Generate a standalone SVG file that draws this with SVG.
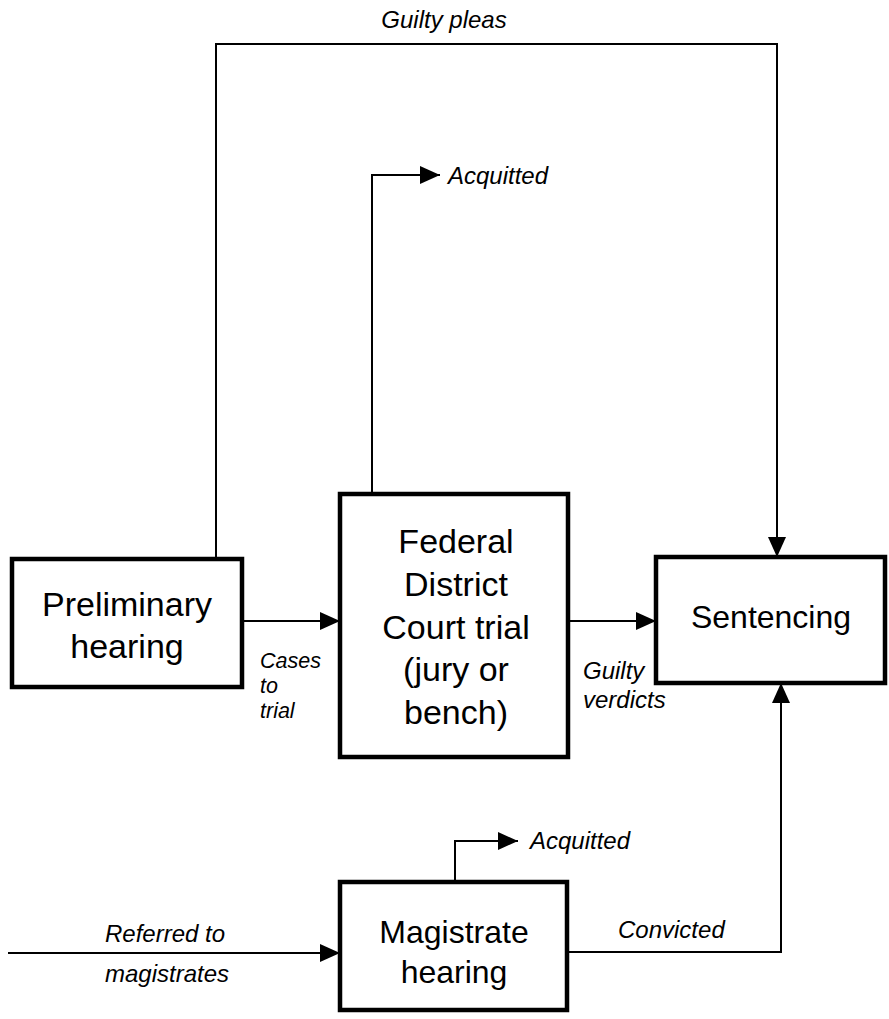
<svg xmlns="http://www.w3.org/2000/svg" width="889" height="1019" viewBox="0 0 889 1019">
<style>
.box{fill:#fff;stroke:#000;stroke-width:4.5}
.bt{font-family:"Liberation Sans",Arial,sans-serif;font-size:32px;fill:#000;text-anchor:middle}
.big{font-size:34px}
.lb{font-family:"Liberation Sans",Arial,sans-serif;font-size:24px;font-style:italic;fill:#000}
.sm{font-size:21.5px}
.ln{fill:none;stroke:#000;stroke-width:2}
</style>
<defs>
<marker id="ah" viewBox="0 0 20 18" refX="20" refY="9" markerWidth="20" markerHeight="18" markerUnits="userSpaceOnUse" orient="auto">
<path d="M0,0 L20,9 L0,18 Z" fill="#000"/>
</marker>
</defs>
<rect width="889" height="1019" fill="#fff"/>
<g id="connectors">
<polyline class="ln" points="216,559 216,44 777,44 777,557" marker-end="url(#ah)"/>
<polyline class="ln" points="372,494 372,175 440,175" marker-end="url(#ah)"/>
<line class="ln" x1="242" y1="621" x2="340" y2="621" marker-end="url(#ah)"/>
<line class="ln" x1="568" y1="621" x2="656" y2="621" marker-end="url(#ah)"/>
<polyline class="ln" points="455,882 455,841 518,841" marker-end="url(#ah)"/>
<line class="ln" x1="8" y1="953" x2="340" y2="953" marker-end="url(#ah)"/>
<polyline class="ln" points="567,952 781,952 781,683" marker-end="url(#ah)"/>
<text class="lb" x="444" y="28" text-anchor="middle">Guilty pleas</text>
<text class="lb" x="448" y="184">Acquitted</text>
<text class="lb sm" x="260" y="668">Cases</text>
<text class="lb sm" x="260" y="693">to</text>
<text class="lb sm" x="260" y="718">trial</text>
<text class="lb" x="583" y="679">Guilty</text>
<text class="lb" x="583" y="708">verdicts</text>
<text class="lb" x="530" y="849">Acquitted</text>
<text class="lb" x="618" y="938">Convicted</text>
<text class="lb" x="105" y="942">Referred to</text>
<text class="lb" x="105" y="982">magistrates</text>
</g>
<g id="preliminary">
<rect class="box" x="12" y="559" width="230" height="128"/>
<text class="bt big" x="127" y="616">Preliminary</text>
<text class="bt big" x="127" y="658">hearing</text>
</g>
<g id="federal">
<rect class="box" x="340" y="494" width="228" height="263"/>
<text class="bt big" x="456" y="553">Federal</text>
<text class="bt big" x="456" y="596">District</text>
<text class="bt big" x="456" y="639">Court trial</text>
<text class="bt big" x="456" y="681">(jury or</text>
<text class="bt big" x="456" y="724">bench)</text>
</g>
<g id="sentencing">
<rect class="box" x="656" y="557" width="229" height="126"/>
<text class="bt" x="771" y="628">Sentencing</text>
</g>
<g id="magistrate">
<rect class="box" x="340" y="882" width="227" height="128"/>
<text class="bt" x="454" y="943">Magistrate</text>
<text class="bt" x="454" y="983">hearing</text>
</g>
</svg>
